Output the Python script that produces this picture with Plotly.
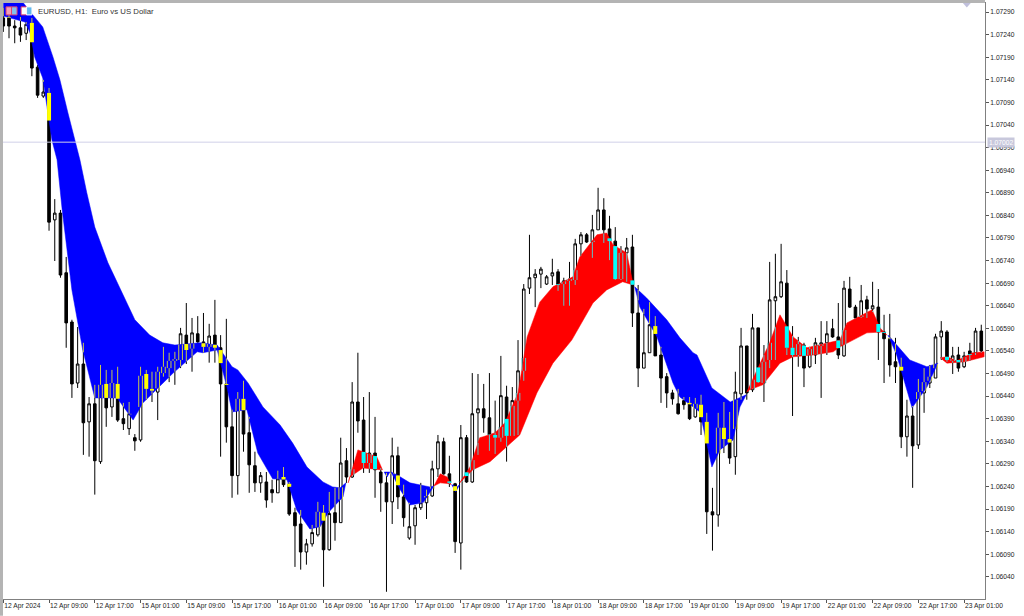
import numpy as np
import plotly.graph_objects as go

open_prices = [
1.07277,1.07279,1.07259,1.07255,1.07243,1.07266,1.07168,1.07104,1.07111,1.06830,
1.06845,1.06713,1.06604,1.06469,1.06511,1.06383,1.06423,1.06295,1.06467,1.06416,
1.06467,1.06390,1.06368,1.06348,1.06343,1.06489,1.06456,1.06449,1.06491,1.06502,
1.06518,1.06520,1.06575,1.06545,1.06578,1.06560,1.06549,1.06575,1.06547,1.06467,
1.06372,1.06264,1.06434,1.06359,1.06286,1.06248,1.06250,1.06233,1.06226,1.06261,
1.06246,1.06182,1.06157,1.06095,1.06113,1.06133,1.06182,1.06100,1.06182,1.06160,
1.06297,1.06261,1.06427,1.06387,1.06292,1.06314,1.06272,1.06248,1.06206,1.06308,
1.06217,1.06126,1.06153,1.06193,1.06204,1.06219,1.06279,1.06339,1.06268,1.06246,
1.06115,1.06348,1.06250,1.06403,1.06412,1.06392,1.06354,1.06348,1.06438,1.06352,
1.06430,1.06496,1.06679,1.06702,1.06710,1.06688,1.06706,1.06715,1.06688,1.06695,
1.06697,1.06777,1.06797,1.06781,1.06808,1.06852,1.06810,1.06783,1.06699,1.06757,
1.06770,1.06624,1.06502,1.06536,1.06595,1.06531,1.06483,1.06447,1.06423,1.06430,
1.06425,1.06394,1.06421,1.06383,1.06184,1.06177,1.06370,1.06345,1.06306,1.06445,
1.06551,1.06454,1.06591,1.06469,1.06520,1.06651,1.06660,1.06690,1.06547,1.06531,
1.06553,1.06505,1.06531,1.06551,1.06558,1.06589,1.06571,1.06529,1.06677,1.06637,
1.06615,1.06653,1.06633,1.06637,1.06582,1.06567,1.06516,1.06505,1.06350,1.06396,
1.06332,1.06447,1.06469,1.06480,1.06571,1.06582,1.06518,1.06531,1.06505,1.06540,
1.06536,1.06584]
high_prices = [
1.07299,1.07299,1.07272,1.07279,1.07268,1.07277,1.07173,1.07140,1.07122,1.06876,
1.06852,1.06748,1.06609,1.06593,1.06558,1.06438,1.06465,1.06509,1.06498,1.06498,
1.06505,1.06425,1.06427,1.06356,1.06505,1.06498,1.06494,1.06505,1.06549,1.06536,
1.06538,1.06591,1.06646,1.06613,1.06617,1.06624,1.06600,1.06653,1.06575,1.06611,
1.06410,1.06449,1.06474,1.06394,1.06317,1.06272,1.06272,1.06255,1.06275,1.06283,
1.06250,1.06193,1.06188,1.06124,1.06155,1.06206,1.06199,1.06228,1.06237,1.06348,
1.06325,1.06471,1.06536,1.06438,1.06449,1.06394,1.06281,1.06270,1.06348,1.06328,
1.06244,1.06204,1.06199,1.06248,1.06233,1.06297,1.06354,1.06348,1.06308,1.06248,
1.06376,1.06354,1.06491,1.06489,1.06467,1.06491,1.06430,1.06529,1.06463,1.06460,
1.06564,1.06688,1.06797,1.06721,1.06726,1.06708,1.06744,1.06721,1.06702,1.06737,
1.06788,1.06803,1.06801,1.06841,1.06901,1.06878,1.06839,1.06814,1.06772,1.06790,
1.06797,1.06686,1.06633,1.06648,1.06617,1.06549,1.06491,1.06454,1.06456,1.06438,
1.06438,1.06436,1.06443,1.06403,1.06237,1.06403,1.06427,1.06405,1.06494,1.06591,
1.06551,1.06622,1.06591,1.06553,1.06737,1.06755,1.06777,1.06719,1.06595,1.06571,
1.06558,1.06549,1.06569,1.06606,1.06606,1.06611,1.06646,1.06695,1.06704,1.06642,
1.06686,1.06662,1.06693,1.06677,1.06620,1.06622,1.06569,1.06525,1.06432,1.06418,
1.06478,1.06502,1.06509,1.06578,1.06606,1.06586,1.06549,1.06549,1.06538,1.06558,
1.06591,1.06598]
low_prices = [
1.07246,1.07232,1.07221,1.07224,1.07228,1.07148,1.07100,1.07100,1.06806,1.06739,
1.06702,1.06547,1.06436,1.06458,1.06310,1.06306,1.06222,1.06290,1.06372,1.06394,
1.06383,1.06365,1.06354,1.06319,1.06339,1.06432,1.06427,1.06387,1.06483,1.06471,
1.06465,1.06502,1.06511,1.06494,1.06558,1.06536,1.06514,1.06514,1.06306,1.06337,
1.06215,1.06222,1.06317,1.06226,1.06228,1.06226,1.06193,1.06204,1.06226,1.06239,
1.06175,1.06062,1.06056,1.06067,1.06107,1.06129,1.06018,1.06098,1.06120,1.06160,
1.06248,1.06259,1.06359,1.06270,1.06270,1.06215,1.06184,1.06007,1.06157,1.06190,
1.06151,1.06122,1.06111,1.06188,1.06168,1.06217,1.06261,1.06266,1.06239,1.06093,
1.06056,1.06248,1.06248,1.06310,1.06359,1.06319,1.06312,1.06339,1.06295,1.06352,
1.06354,1.06474,1.06666,1.06637,1.06679,1.06686,1.06686,1.06673,1.06640,1.06640,
1.06686,1.06750,1.06779,1.06746,1.06808,1.06779,1.06741,1.06697,1.06697,1.06693,
1.06593,1.06460,1.06502,1.06536,1.06529,1.06425,1.06414,1.06421,1.06399,1.06410,
1.06387,1.06392,1.06354,1.06135,1.06098,1.06151,1.06314,1.06290,1.06266,1.06432,
1.06432,1.06449,1.06469,1.06427,1.06502,1.06520,1.06657,1.06531,1.06396,1.06505,
1.06460,1.06502,1.06511,1.06436,1.06531,1.06569,1.06522,1.06527,1.06635,1.06611,
1.06613,1.06613,1.06626,1.06520,1.06469,1.06483,1.06469,1.06325,1.06306,1.06237,
1.06323,1.06403,1.06458,1.06480,1.06520,1.06516,1.06489,1.06494,1.06502,1.06518,
1.06531,1.06536]
close_prices = [
1.07259,1.07259,1.07255,1.07239,1.07263,1.07166,1.07106,1.07113,1.06825,1.06845,
1.06708,1.06602,1.06467,1.06511,1.06381,1.06423,1.06297,1.06465,1.06414,1.06469,
1.06387,1.06379,1.06401,1.06341,1.06485,1.06456,1.06452,1.06494,1.06505,1.06518,
1.06522,1.06578,1.06542,1.06580,1.06560,1.06549,1.06573,1.06547,1.06467,1.06372,
1.06264,1.06434,1.06356,1.06288,1.06248,1.06264,1.06210,1.06226,1.06257,1.06244,
1.06179,1.06153,1.06095,1.06113,1.06138,1.06184,1.06100,1.06180,1.06160,1.06292,
1.06261,1.06427,1.06385,1.06292,1.06314,1.06277,1.06248,1.06206,1.06308,1.06217,
1.06171,1.06151,1.06193,1.06204,1.06219,1.06279,1.06339,1.06268,1.06248,1.06118,
1.06348,1.06250,1.06401,1.06412,1.06392,1.06354,1.06348,1.06441,1.06352,1.06430,
1.06496,1.06677,1.06702,1.06710,1.06721,1.06704,1.06713,1.06686,1.06695,1.06699,
1.06777,1.06797,1.06781,1.06808,1.06852,1.06808,1.06783,1.06699,1.06757,1.06768,
1.06624,1.06502,1.06536,1.06598,1.06529,1.06480,1.06447,1.06434,1.06401,1.06421,
1.06390,1.06423,1.06383,1.06184,1.06177,1.06370,1.06345,1.06303,1.06449,1.06551,
1.06447,1.06591,1.06471,1.06516,1.06653,1.06660,1.06693,1.06547,1.06531,1.06555,
1.06502,1.06544,1.06558,1.06558,1.06578,1.06571,1.06531,1.06679,1.06637,1.06613,
1.06651,1.06633,1.06640,1.06582,1.06567,1.06509,1.06505,1.06350,1.06396,1.06330,
1.06449,1.06471,1.06483,1.06571,1.06584,1.06520,1.06529,1.06502,1.06529,1.06531,
1.06584,1.06540]

x_tick_bars = list(range(0, 176, 8))
x_tick_labels = ["12 Apr 2024","12 Apr 09:00","12 Apr 17:00","15 Apr 01:00","15 Apr 09:00",
"15 Apr 17:00","16 Apr 01:00","16 Apr 09:00","16 Apr 17:00","17 Apr 01:00","17 Apr 09:00",
"17 Apr 17:00","18 Apr 01:00","18 Apr 09:00","18 Apr 17:00","19 Apr 01:00","19 Apr 09:00",
"19 Apr 17:00","22 Apr 01:00","22 Apr 09:00","22 Apr 17:00","23 Apr 01:00"]
y_tick_values = [1.06040,1.06090,1.06140,1.06190,1.06240,1.06290,1.06340,1.06390,1.06440,
1.06490,1.06540,1.06590,1.06640,1.06690,1.06740,1.06790,1.06840,1.06890,1.06940,1.06990,
1.07040,1.07090,1.07140,1.07190,1.07240,1.07290]
current_price = 1.07002

# Cloud band: bar positions and prices of each edge, one block per colour run
b1_up_x = [0,3.4,5.2,6.9,8.7,9.9,11.3,12.5,13.4,14.6,16.0,18.3,20.8,23.0,25.6,27.9,30.0,34.4,37.4,38.8,40.0,41.0,42.8,45.4,48.4,50.6,53.1,55.9,57.6,58.9,59.9]
b1_up_y = [1.07316,1.07312,1.07283,1.07257,1.07190,1.07140,1.07067,1.07007,1.06963,1.06890,1.06814,1.06735,1.06668,1.06609,1.06575,1.06558,1.06553,1.06558,1.06553,1.06527,1.06505,1.06498,1.06469,1.06416,1.06376,1.06336,1.06283,1.06250,1.06239,1.06237,1.06248]
b1_lo_x = [0,3.8,4.7,5.5,6.9,7.8,8.5,9.4,10.3,12.0,13.9,16.0,19.9,22.7,24.4,29.7,33.9,34.9,37.4,39.1,40.0,42.6,44.5,47.1,49.6,51.3,53.6,55.4,56.8,58.5,59.4,59.9]
b1_lo_y = [1.07281,1.07268,1.07243,1.07190,1.07144,1.07067,1.07007,1.06963,1.06852,1.06675,1.06542,1.06436,1.06436,1.06387,1.06425,1.06491,1.06538,1.06536,1.06542,1.06460,1.06405,1.06410,1.06314,1.06257,1.06255,1.06188,1.06146,1.06151,1.06182,1.06204,1.06217,1.06248]

r1_up_x = [60.3,62.0,65.3,66.2,66.3]
r1_up_y = [1.06248,1.06321,1.06306,1.06277,1.06277]
r1_lo_x = [60.3,60.6,62.9,65.9,66.3]
r1_lo_y = [1.06248,1.06261,1.06281,1.06277,1.06277]

b2_up_x = [66.6,67.6]
b2_up_y = [1.06272,1.06272]
b2_lo_x = [66.6,67.1,67.6]
b2_lo_y = [1.06272,1.06261,1.06272]

b3_up_x = [67.8,68.8,71.1,74.6,75.3]
b3_up_y = [1.06272,1.06266,1.06248,1.06239,1.06241]
b3_lo_x = [67.8,69.4,71.1,73.4,75.3]
b3_lo_y = [1.06272,1.06233,1.06199,1.06204,1.06241]

r2_up_x = [75.3,76.4,77.6,78.3]
r2_up_y = [1.06241,1.06268,1.06261,1.06244]
r2_lo_x = [75.3,76.4,78.1,78.3]
r2_lo_y = [1.06241,1.06248,1.06246,1.06244]

b4_up_x = [78.4,79.3,79.8]
b4_up_y = [1.06244,1.06239,1.06244]
b4_lo_x = [78.4,79.1,79.8]
b4_lo_y = [1.06244,1.06228,1.06244]

r3_up_x = [79.8,81.6,83.3,83.9,86.0,87.7,90.0,91.6,93.8,96.1,99.6,100.8,103.8,105.5,106.6,109.0,110.1]
r3_up_y = [1.06248,1.06283,1.06348,1.06350,1.06359,1.06381,1.06447,1.06571,1.06648,1.06682,1.06704,1.06748,1.06797,1.06801,1.06775,1.06757,1.06690]
r3_lo_x = [79.8,82.1,85.1,87.4,90.3,93.3,96.1,99.4,103.1,105.5,108.3,110.1]
r3_lo_y = [1.06248,1.06277,1.06295,1.06321,1.06354,1.06447,1.06513,1.06564,1.06646,1.06675,1.06693,1.06686]

b5_up_x = [110.4,112.5,116.0,118.3,120.6,121.3,123.9,127.1,129.9]
b5_up_y = [1.06682,1.06657,1.06609,1.06569,1.06536,1.06531,1.06458,1.06427,1.06443]
b5_lo_x = [110.4,111.3,114.3,117.1,118.3,121.8,123.9,125.3,127.6,128.8,129.9]
b5_lo_y = [1.06682,1.06637,1.06571,1.06469,1.06438,1.06405,1.06283,1.06321,1.06343,1.06416,1.06443]

r4_up_x = [130.0,134.0,135.8,138.1,140.5,144.0,146.3,147.5,151.9,153.3,154.5]
r4_up_y = [1.06449,1.06558,1.06620,1.06571,1.06547,1.06558,1.06564,1.06602,1.06631,1.06591,1.06575]
r4_lo_x = [130.0,130.5,132.8,135.8,138.1,141.6,145.1,146.3,151.0,153.8,154.5]
r4_lo_y = [1.06449,1.06454,1.06465,1.06513,1.06527,1.06531,1.06538,1.06549,1.06580,1.06582,1.06575]

b6_up_x = [154.7,158.5,161.5,163.4]
b6_up_y = [1.06575,1.06520,1.06505,1.06513]
b6_lo_x = [154.7,156.2,158.9,161.5,163.4]
b6_lo_y = [1.06575,1.06531,1.06414,1.06460,1.06513]

r5_up_x = [163.8,165.0,166.7,169.5,171.5]
r5_up_y = [1.06525,1.06527,1.06518,1.06536,1.06538]
r5_lo_x = [163.8,165.0,168.1,171.5]
r5_lo_y = [1.06525,1.06513,1.06516,1.06527]

BLUE, RED = "#0000ff", "#ff0000"
segments = [
    (BLUE, b1_up_x, b1_up_y, b1_lo_x, b1_lo_y), (RED, r1_up_x, r1_up_y, r1_lo_x, r1_lo_y),
    (BLUE, b2_up_x, b2_up_y, b2_lo_x, b2_lo_y), (BLUE, b3_up_x, b3_up_y, b3_lo_x, b3_lo_y),
    (RED, r2_up_x, r2_up_y, r2_lo_x, r2_lo_y), (BLUE, b4_up_x, b4_up_y, b4_lo_x, b4_lo_y),
    (RED, r3_up_x, r3_up_y, r3_lo_x, r3_lo_y), (BLUE, b5_up_x, b5_up_y, b5_lo_x, b5_lo_y),
    (RED, r4_up_x, r4_up_y, r4_lo_x, r4_lo_y), (BLUE, b6_up_x, b6_up_y, b6_lo_x, b6_lo_y),
    (RED, r5_up_x, r5_up_y, r5_lo_x, r5_lo_y),
]

bars = list(range(len(open_prices)))
fig = go.Figure()
fig.add_trace(go.Candlestick(
    x=bars, open=open_prices, high=high_prices, low=low_prices, close=close_prices,
    increasing=dict(line=dict(color="#000000", width=1), fillcolor="#ffffff"),
    decreasing=dict(line=dict(color="#000000", width=1), fillcolor="#000000"),
    whiskerwidth=0, showlegend=False, hoverinfo="skip"))

# thin[colour] and thick[colour]: candle ink seen through the cloud changes colour
thin = {BLUE: ([], []), RED: ([], [])}
thick = {BLUE: ([], []), RED: ([], [])}
BODY_HALF = 0.32

def clip_add(store, x, a, b, lo, hi):
    top, bot = min(max(a, b), hi), max(min(a, b), lo)
    if top > bot:
        store[0].extend([x, x, None])
        store[1].extend([bot, top, None])

for color, ux, uy, lx, ly in segments:
    xs = list(ux) + list(lx)[::-1]
    ys = list(uy) + list(ly)[::-1]
    fig.add_trace(go.Scatter(x=xs, y=ys, mode="lines", fill="toself", fillcolor=color,
                             line=dict(color=color, width=0.5), showlegend=False, hoverinfo="skip"))
    for i in bars:
        if ux[0] <= i <= ux[-1]:
            hi = float(np.interp(i, ux, uy))
            lo = float(np.interp(i, lx, ly))
            o, h, l, c = open_prices[i], high_prices[i], low_prices[i], close_prices[i]
            clip_add(thin[color], i, max(o, c), h, lo, hi)
            clip_add(thin[color], i, l, min(o, c), lo, hi)
            if c < o:
                clip_add(thick[color], i, o, c, lo, hi)
            else:
                clip_add(thin[color], i - BODY_HALF, o, c, lo, hi)
                clip_add(thin[color], i + BODY_HALF, o, c, lo, hi)

for color, ink, soft in ((BLUE, "#ffff00", "#c8c850"), (RED, "#00ffff", "#60c4c8")):
    fig.add_trace(go.Scatter(x=thin[color][0], y=thin[color][1], mode="lines", connectgaps=False,
                             line=dict(color=soft, width=1), showlegend=False, hoverinfo="skip"))
    fig.add_trace(go.Scatter(x=thick[color][0], y=thick[color][1], mode="lines", connectgaps=False,
                             line=dict(color=ink, width=4), showlegend=False, hoverinfo="skip"))

FONT = "Liberation Sans"
fig.update_layout(
    width=1024, height=616, margin=dict(l=3, r=39, t=3, b=17, pad=0, autoexpand=False),
    paper_bgcolor="#ffffff", plot_bgcolor="#ffffff", showlegend=False, boxgap=0.35,
    font=dict(family=FONT, size=6.7, color="#222222"),
    xaxis=dict(range=[-0.05, 171.65], rangeslider=dict(visible=False), showgrid=False, zeroline=False,
               tickmode="array", tickvals=x_tick_bars, ticktext=x_tick_labels, tickangle=0, automargin=False,
               ticks="outside", ticklen=3, tickwidth=1, tickcolor="#555555",
               ticklabelposition="outside right", showline=True, linecolor="#808080", linewidth=1, mirror=True),
    yaxis=dict(range=[1.05991, 1.07310], side="right", showgrid=False, zeroline=False, automargin=False,
               tickmode="array", tickvals=y_tick_values, ticktext=[f"{v:.5f}" for v in y_tick_values],
               ticks="outside", ticklen=3, tickwidth=1, tickcolor="#555555",
               showline=True, linecolor="#808080", linewidth=1, mirror=True),
    shapes=[
        dict(type="line", xref="paper", x0=0, x1=1, yref="y", y0=current_price, y1=current_price,
             line=dict(color="#d0d0e8", width=1)),
        dict(type="path", xref="paper", yref="paper", path="M 0.9775 1 L 0.9855 1 L 0.9815 0.9925 Z",
             fillcolor="#c0c0dc", line=dict(width=0)),
        # window frame
        dict(type="rect", xref="paper", yref="paper", x0=-0.00305, x1=0, y0=-0.028, y1=1.005,
             fillcolor="#b4b4b4", line=dict(width=0)),
        dict(type="rect", xref="paper", yref="paper", x0=-0.00305, x1=1.0, y0=1, y1=1.005,
             fillcolor="#b4b4b4", line=dict(width=0)),
        # toolbar icons in the corner of the chart
        dict(type="rect", xref="paper", yref="paper", x0=0.0031, x1=0.0087, y0=0.980, y1=0.9935,
             fillcolor="#f0a0b8", line=dict(color="#e04070", width=1)),
        dict(type="rect", xref="paper", yref="paper", x0=0.0087, x1=0.0143, y0=0.980, y1=0.9935,
             fillcolor="#80c0f0", line=dict(color="#e04070", width=1)),
        dict(type="rect", xref="paper", yref="paper", x0=0.0184, x1=0.0240, y0=0.980, y1=0.9935,
             fillcolor="#ffffff", line=dict(color="#e03060", width=1)),
        dict(type="rect", xref="paper", yref="paper", x0=0.0240, x1=0.0295, y0=0.980, y1=0.9935,
             fillcolor="#60b8f0", line=dict(color="#ffffff", width=1)),
    ],
    annotations=[
        dict(text="EURUSD, H1:  Euro vs US Dollar", xref="paper", yref="paper", x=0.0336, y=0.9865,
             xanchor="left", yanchor="middle", showarrow=False,
             font=dict(family=FONT, size=7.8, color="#333333")),
        dict(text=f"{current_price:.5f}", xref="paper", yref="y", x=1.0022, y=current_price,
             xanchor="left", yanchor="middle", showarrow=False, bgcolor="#c8c8dc",
             font=dict(family=FONT, size=6.7, color="#ffffff"), borderpad=1),
    ],
)
fig.write_html("out.html", post_script="document.body.style.margin='0';", config=dict(displayModeBar=False))
